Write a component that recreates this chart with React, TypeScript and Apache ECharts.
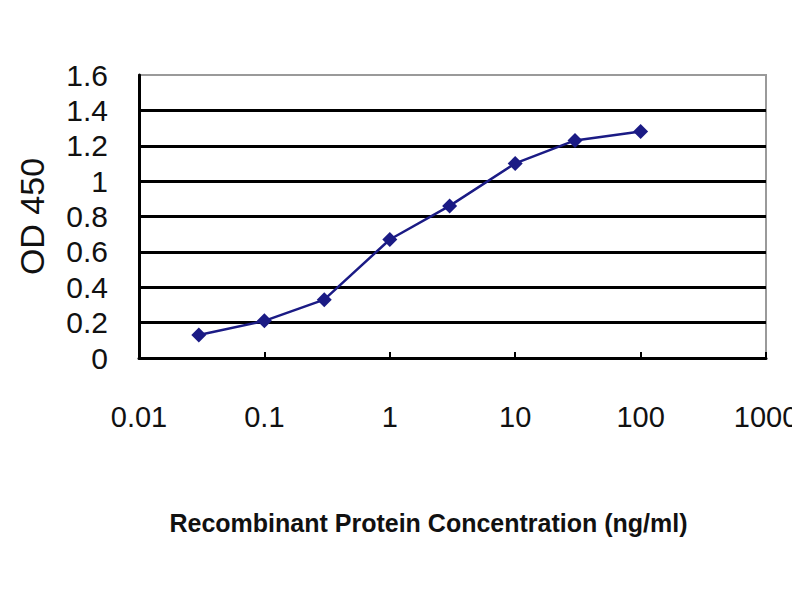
import React, { useEffect, useRef } from "react";
import * as echarts from "echarts";

const concentrations = [0.03, 0.1, 0.3, 1, 3, 10, 30, 100];
const odValues = [0.13, 0.21, 0.33, 0.67, 0.86, 1.1, 1.23, 1.28];
const yTicks = [0, 0.2, 0.4, 0.6, 0.8, 1, 1.2, 1.4, 1.6];
const xAxisTitle = "Recombinant Protein Concentration (ng/ml)";
const yAxisTitle = "OD 450";

const FONT = "'Liberation Sans', Arial, sans-serif";

export default function App() {
  const ref = useRef<HTMLDivElement>(null);
  useEffect(() => {
    if (!ref.current) return;
    const chart = echarts.init(ref.current, undefined, { renderer: "svg" });
    chart.setOption({
      animation: false,
      backgroundColor: "#ffffff",
      grid: {
        left: 131,
        right: 34,
        top: 67,
        bottom: 234,
        outerBoundsMode: "none",
        containLabel: false,
        show: true,
        borderColor: "#9a9a9a",
        borderWidth: 2,
        backgroundColor: "#ffffff",
      },
      xAxis: {
        type: "log",
        logBase: 10,
        min: 0.01,
        max: 1000,
        name: xAxisTitle,
        nameLocation: "middle",
        nameGap: 152,
        nameTextStyle: {
          fontFamily: FONT,
          fontSize: 25,
          fontWeight: "bold",
          color: "#111",
          padding: [0, 48, 0, 0],
        },
        axisLine: { show: true, lineStyle: { color: "#000", width: 3 } },
        axisTick: { show: true, inside: true, length: 6, lineStyle: { color: "#000", width: 2 } },
        minorTick: { show: false },
        splitLine: { show: false },
        axisLabel: {
          margin: 44,
          fontFamily: FONT,
          fontSize: 29,
          color: "#111",
          hideOverlap: false,
          showMinLabel: true,
          showMaxLabel: true,
          formatter: (v: number) => String(v),
        },
      },
      yAxis: {
        type: "value",
        min: 0,
        max: 1.6,
        interval: 0.2,
        name: yAxisTitle,
        nameLocation: "middle",
        nameGap: 90,
        nameRotate: 90,
        nameTextStyle: { fontFamily: FONT, fontSize: 34, color: "#111" },
        axisLine: { show: true, lineStyle: { color: "#000", width: 3 } },
        axisTick: { show: false },
        splitLine: { show: true, showMaxLine: false, lineStyle: { color: "#000", width: 3 } },
        axisLabel: {
          margin: 31,
          fontFamily: FONT,
          fontSize: 30,
          lineHeight: 30,
          color: "#111",
          interval: 0,
          hideOverlap: false,
          showMinLabel: true,
          showMaxLabel: true,
          formatter: (v: number) => {
            const t = yTicks.find((k) => Math.abs(k - v) < 1e-6);
            return t === undefined ? "" : String(Math.round(t * 10) / 10);
          },
        },
      },
      series: [
        {
          type: "line",
          data: concentrations.map((c, i) => [c, odValues[i]]),
          symbol: "diamond",
          symbolSize: 15,
          lineStyle: { color: "#1b1b85", width: 2.5 },
          itemStyle: { color: "#1b1b85" },
        },
      ],
    });
    return () => chart.dispose();
  }, []);
  return <div ref={ref} style={{ width: 792, height: 584 }} />;
}
